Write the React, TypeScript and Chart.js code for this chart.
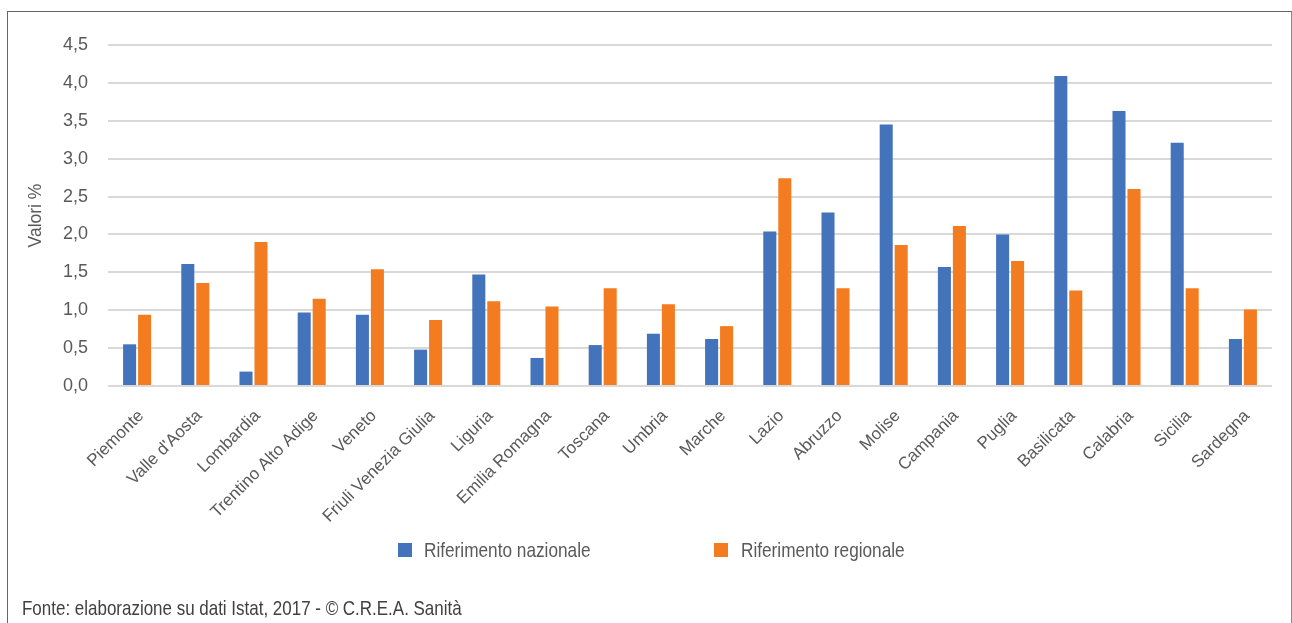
import React, { useEffect, useRef } from "react";
import { Chart, registerables } from "chart.js";

Chart.register(...registerables);

const CATEGORIES = [
  "Piemonte", "Valle d'Aosta", "Lombardia", "Trentino Alto Adige", "Veneto",
  "Friuli Venezia Giulia", "Liguria", "Emilia Romagna", "Toscana", "Umbria",
  "Marche", "Lazio", "Abruzzo", "Molise", "Campania", "Puglia", "Basilicata",
  "Calabria", "Sicilia", "Sardegna",
];
const NAZIONALE = [0.55, 1.61, 0.19, 0.97, 0.94, 0.48, 1.47, 0.37, 0.54, 0.69, 0.62, 2.04, 2.29, 3.45, 1.57, 2.0, 4.09, 3.63, 3.21, 0.62];
const REGIONALE = [0.94, 1.36, 1.9, 1.15, 1.54, 0.87, 1.12, 1.05, 1.29, 1.08, 0.79, 2.74, 1.29, 1.86, 2.11, 1.65, 1.26, 2.6, 1.29, 1.01];
const SERIES_NAMES = ["Riferimento nazionale", "Riferimento regionale"];
const SERIES_COLORS = ["#4373BB", "#F47C20"];
const Y_MIN = 0;
const Y_MAX = 4.5;
const Y_STEP = 0.5;
const Y_TITLE = "Valori %";
const SOURCE = "Fonte: elaborazione su dati Istat, 2017 - \u00A9 C.R.E.A. Sanit\u00E0";

const FONT = "'Liberation Sans', Arial, sans-serif";
const TEXT = "#595959";
const CANVAS_H = 530;

export default function App() {
  const ref = useRef<HTMLCanvasElement | null>(null);

  useEffect(() => {
    if (!ref.current) return;
    const chart = new Chart(ref.current, {
      type: "bar",
      data: {
        labels: CATEGORIES,
        datasets: [
          { label: SERIES_NAMES[0], data: NAZIONALE, backgroundColor: SERIES_COLORS[0] },
          { label: SERIES_NAMES[1], data: REGIONALE, backgroundColor: SERIES_COLORS[1] },
        ],
      },
      options: {
        animation: false,
        responsive: false,
        devicePixelRatio: 1,
        datasets: { bar: { categoryPercentage: 0.515, barPercentage: 0.87 } },
        layout: { padding: { left: 0, right: 20, top: 45, bottom: 0 } },
        plugins: { legend: { display: false }, tooltip: { enabled: false } },
        scales: {
          x: {
            grid: { display: false, drawTicks: false },
            border: { display: false },
            ticks: {
              autoSkip: false,
              minRotation: 45,
              maxRotation: 45,
              padding: 20,
              labelOffset: 4,
              color: TEXT,
              font: { family: FONT, size: 17 },
            },
            afterFit: (s: any) => { s.height = CANVAS_H - 386; },
          },
          y: {
            min: Y_MIN,
            max: Y_MAX,
            grid: { color: "#D9D9D9", lineWidth: 2, drawTicks: false },
            border: { display: false },
            ticks: {
              stepSize: Y_STEP,
              padding: 20,
              color: TEXT,
              font: { family: FONT, size: 18 },
              callback: (v: any) => Number(v).toFixed(1).replace(".", ","),
            },
            title: {
              display: true,
              text: Y_TITLE,
              color: TEXT,
              font: { family: FONT, size: 17.5 },
              padding: { top: 26, bottom: 0 },
            },
            afterFit: (s: any) => { s.width = 108; },
          },
        },
      },
    });
    return () => chart.destroy();
  }, []);

  const legendText: React.CSSProperties = {
    position: "absolute", top: 539, height: 22, lineHeight: "22px",
    fontFamily: FONT, fontSize: 21, color: TEXT, whiteSpace: "nowrap",
    transform: "scaleX(0.82)", transformOrigin: "0 50%",
  };
  const box = (c: string, left: number): React.CSSProperties => ({
    position: "absolute", left, top: 543, width: 14, height: 14, background: c,
  });

  return (
    <div style={{ position: "absolute", left: 0, top: 0, width: 1292, height: 623, background: "#fff", overflow: "hidden" }}>
      <canvas ref={ref} width={1292} height={CANVAS_H} style={{ position: "absolute", left: 0, top: 0, width: 1292, height: CANVAS_H }} />
      <div style={{ position: "absolute", left: 7, top: 11, width: 1283, height: 700, borderLeft: "1px solid #666", borderTop: "1px solid #666", borderRight: "1px solid #888", pointerEvents: "none" }} />
      <div style={box(SERIES_COLORS[0], 398)} />
      <div style={{ ...legendText, left: 424 }}>{SERIES_NAMES[0]}</div>
      <div style={box(SERIES_COLORS[1], 714)} />
      <div style={{ ...legendText, left: 741 }}>{SERIES_NAMES[1]}</div>
      <div style={{ position: "absolute", left: 22, top: 597, lineHeight: "21px", fontFamily: FONT, fontSize: 20.7, color: "#404040", whiteSpace: "nowrap", transform: "scaleX(0.82)", transformOrigin: "0 50%" }}>{SOURCE}</div>
    </div>
  );
}
